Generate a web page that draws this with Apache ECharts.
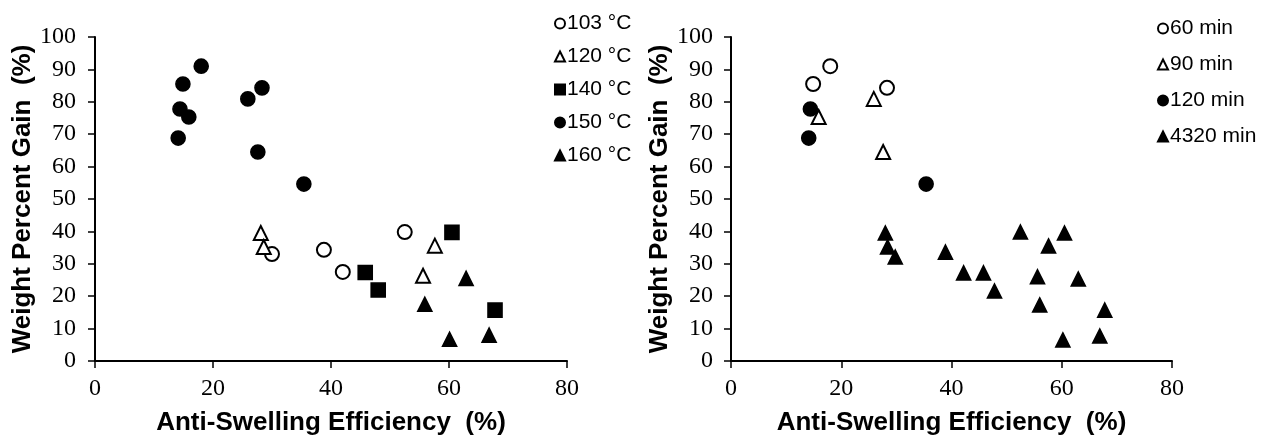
<!DOCTYPE html>
<html>
<head>
<meta charset="utf-8">
<script src="https://cdn.jsdelivr.net/npm/echarts@6/dist/echarts.min.js"></script>
<style>
  html, body { margin: 0; padding: 0; background: #fff; }
  #main { width: 1264px; height: 439px; }
</style>
</head>
<body>
<div id="main"></div>
<script>
// left chart: treatment temperature, [ASE %, WPG %]
var t103 = [[30.0, 33.0], [38.8, 34.3], [42.0, 27.5], [52.5, 39.8]];
var t120 = [[28.1, 39.5], [28.6, 35.2], [55.6, 26.3], [57.6, 35.6]];
var t140 = [[45.8, 27.3], [48.0, 21.9], [60.5, 39.7], [67.8, 15.7]];
var t150 = [[18.0, 91.0], [14.9, 85.5], [14.4, 77.8], [15.9, 75.3], [14.1, 68.8],
            [25.9, 80.9], [28.3, 84.3], [27.6, 64.5], [35.4, 54.6]];
var t160 = [[55.9, 17.5], [60.1, 6.7], [62.9, 25.5], [66.8, 8.0]];

// right chart: treatment time
var m60 = [[14.9, 85.5], [18.0, 91.0], [28.3, 84.3]];
var m90 = [[15.9, 75.3], [25.9, 80.9], [27.6, 64.5]];
var m120 = [[14.1, 68.8], [14.4, 77.8], [35.4, 54.6]];
var m4320 = [[28.0, 39.5], [28.4, 35.2], [29.8, 32.1], [38.9, 33.6], [42.2, 27.2],
             [45.8, 27.2], [47.8, 21.6], [52.5, 39.8], [57.6, 35.5], [60.5, 39.5],
             [55.6, 26.0], [63.0, 25.3], [56.0, 17.3], [67.8, 15.7], [60.2, 6.5],
             [66.9, 7.7]];

var leftNames = ['103 °C', '120 °C', '140 °C', '150 °C', '160 °C'];
var rightNames = ['60 min', '90 min', '120 min', '4320 min'];

var serifFont = 'Liberation Serif';
var sansFont = 'Liberation Sans';

function makeX(idx) {
    return {
        gridIndex: idx,
        type: 'value',
        min: 0,
        max: 80,
        interval: 20,
        name: 'Anti-Swelling Efficiency  (%)',
        nameLocation: 'middle',
        nameGap: 49,
        nameTextStyle: { fontFamily: sansFont, fontWeight: 'bold', fontSize: 26, color: '#000' },
        axisLine: { show: true, lineStyle: { color: '#000', width: 2 } },
        axisTick: { show: true, inside: false, length: 7, lineStyle: { color: '#000', width: 1.5 } },
        axisLabel: { fontFamily: serifFont, fontSize: 24, color: '#000', margin: 16 },
        splitLine: { show: false }
    };
}

function makeY(idx, gap, labelGap) {
    return {
        gridIndex: idx,
        type: 'value',
        min: 0,
        max: 100,
        interval: 10,
        name: 'Weight Percent Gain  (%)',
        nameLocation: 'middle',
        nameGap: gap,
        nameTextStyle: { fontFamily: sansFont, fontWeight: 'bold', fontSize: 26, color: '#000' },
        axisLine: { show: true, lineStyle: { color: '#000', width: 2 } },
        axisTick: { show: true, inside: false, length: 7, lineStyle: { color: '#000', width: 1.5 } },
        axisLabel: { fontFamily: serifFont, fontSize: 24, color: '#000', margin: labelGap },
        splitLine: { show: false }
    };
}

function sc(name, data, symbol, idx) {
    return {
        name: name,
        type: 'scatter',
        xAxisIndex: idx,
        yAxisIndex: idx,
        data: data,
        symbol: symbol,
        symbolSize: 14,
        itemStyle: { color: '#000', borderColor: '#000', borderWidth: 1.6, opacity: 1 },
        emphasis: { disabled: true }
    };
}

var myChart = echarts.init(document.getElementById('main'));
var option = {
    animation: false,
    backgroundColor: '#fff',
    grid: [
        { left: 95, right: 697, top: 37, bottom: 78, outerBoundsMode: 'none' },
        { left: 731, right: 92, top: 37, bottom: 78, outerBoundsMode: 'none' }
    ],
    xAxis: [makeX(0), makeX(1)],
    yAxis: [makeY(0, 57, 19), makeY(1, 49, 18)],
    legend: [
        {
            data: leftNames,
            orient: 'vertical',
            left: 554,
            top: 13,
            padding: 0,
            itemWidth: 10,
            itemHeight: 10,
            itemGap: 12,
            textStyle: { fontFamily: sansFont, fontSize: 21, color: '#000', padding: [0, 0, 0, -3] }
        },
        {
            data: rightNames,
            orient: 'vertical',
            left: 1157,
            top: 18,
            padding: 0,
            itemWidth: 10,
            itemHeight: 10,
            itemGap: 15,
            textStyle: { fontFamily: sansFont, fontSize: 21, color: '#000', padding: [0, 0, 0, -3] }
        }
    ],
    series: [
        sc('103 °C', t103, 'emptyCircle', 0),
        sc('120 °C', t120, 'emptyTriangle', 0),
        sc('140 °C', t140, 'rect', 0),
        sc('150 °C', t150, 'circle', 0),
        sc('160 °C', t160, 'triangle', 0),
        sc('60 min', m60, 'emptyCircle', 1),
        sc('90 min', m90, 'emptyTriangle', 1),
        sc('120 min', m120, 'circle', 1),
        sc('4320 min', m4320, 'triangle', 1)
    ]
};
myChart.setOption(option);
</script>
</body>
</html>
